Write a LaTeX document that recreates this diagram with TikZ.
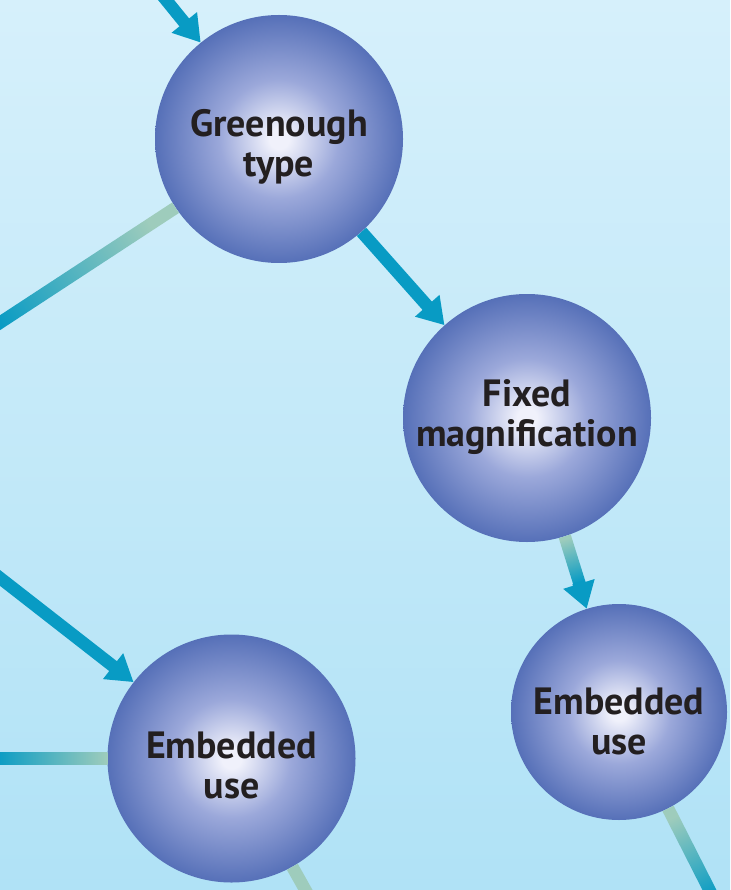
\documentclass[tikz,border=0pt]{standalone}
\usepackage{fontspec}
\setmainfont{PT Sans}
\usetikzlibrary{calc}
\usetikzlibrary{arrows.meta}

\definecolor{skyTop}{RGB}{214,240,251}
\definecolor{skyBottom}{RGB}{176,226,246}
\definecolor{arrowTeal}{RGB}{8,155,196}
\definecolor{paleGreen}{RGB}{158,204,188}
\definecolor{lensCentre}{RGB}{240,241,251}
\definecolor{lensMid}{RGB}{155,168,218}
\definecolor{lensEdge}{RGB}{86,112,184}
\definecolor{labelInk}{RGB}{35,31,32}

\pgfdeclareradialshading{lens}{\pgfpoint{0bp}{0bp}}{color(0bp)=(lensCentre); color(2bp)=(lensCentre); color(12bp)=(lensMid); color(25bp)=(lensEdge); color(50bp)=(lensEdge)}

\begin{document}
\begin{tikzpicture}[x=1pt, y=-1pt,
  lens/.style={circle, inner sep=0pt, shade, shading=lens},
  lens text/.style={font=\fontsize{38pt}{40pt}\selectfont\bfseries, text=labelInk, align=center},
  flow arrow/.style={draw=arrowTeal, line width=12.5pt, -{Triangle[width=31pt, length=26pt]}},
  feed line/.style={draw=paleGreen, line width=12.5pt},
  fade strip/.style={rectangle, inner sep=0pt, outer sep=0pt, minimum height=12.5pt, left color=paleGreen, right color=arrowTeal}]
\useasboundingbox (0,0) rectangle (730,890);
\clip (0,0) rectangle (730,890);
\shade [top color=skyTop, bottom color=skyBottom] (0,0) rectangle (730,890);

\node (greenough type) [lens, minimum size=248pt, label={[lens text, yshift=-8pt]center:{Greenough\\type}}] at (279,139) {};
\node (fixed magnification) [lens, minimum size=248pt, label={[lens text, yshift=1pt]center:{Fixed\\magnification}}] at (527,418) {};
\node (embedded use left) [lens, minimum size=248pt, label={[lens text, yshift=-7pt]center:{Embedded\\use}}] at (231.5,758.5) {};
\node (embedded use right) [lens, minimum size=216pt, label={[lens text, yshift=-9pt]center:{Embedded\\use}}] at (619,712) {};

% loose ends outside the frame
\coordinate (top in) at (149,-21);
\coordinate (left out) at (-28,340);
\coordinate (left in) at (-23,560);
\coordinate (left mid) at (-5,758.5);
\coordinate (bottom out) at (320,916);
\coordinate (right out) at (717,905);
\coordinate (fade end) at ($(embedded use right)!134pt!(fixed magnification)$);
\coordinate (head start) at ($(embedded use right)!136pt!(fixed magnification)$);

\draw [flow arrow] (top in) -- (greenough type);
\draw [flow arrow] (greenough type) -- (fixed magnification);
\draw [flow arrow] (left in) -- (embedded use left);
\draw [feed line] (embedded use left) -- (bottom out);

% fading lines, green at the circle
\path let \p1=($(left out)-(greenough type)$), \n1={atan2(\y1,\x1)}, \n3={\n1+90}, \p2=($(left out)-(greenough type.\n1)$), \n2={veclen(\x2,\y2)} in
  node [fade strip, minimum width=\n2, rotate=\n1, shading angle=\n3] at ($(greenough type.\n1)!0.5!(left out)$) {};
\path let \p1=($(left mid)-(embedded use left)$), \n1={atan2(\y1,\x1)}, \n3={\n1+90}, \p2=($(left mid)-(embedded use left.\n1)$), \n2={veclen(\x2,\y2)} in
  node [fade strip, minimum width=\n2, rotate=\n1, shading angle=\n3] at ($(embedded use left.\n1)!0.5!(left mid)$) {};
\path let \p1=($(right out)-(embedded use right)$), \n1={atan2(\y1,\x1)}, \n3={\n1+90}, \p2=($(right out)-(embedded use right.\n1)$), \n2={veclen(\x2,\y2)} in
  node [fade strip, minimum width=\n2, rotate=\n1, shading angle=\n3] at ($(embedded use right.\n1)!0.5!(right out)$) {};
\path let \p1=($(fade end)-(fixed magnification)$), \n1={atan2(\y1,\x1)}, \n3={\n1+90}, \p2=($(fade end)-(fixed magnification.\n1)$), \n2={veclen(\x2,\y2)} in
  node [fade strip, minimum width=\n2, rotate=\n1, shading angle=\n3] at ($(fixed magnification.\n1)!0.5!(fade end)$) {};
\draw [flow arrow] (head start) -- (embedded use right);

\end{tikzpicture}
\end{document}
